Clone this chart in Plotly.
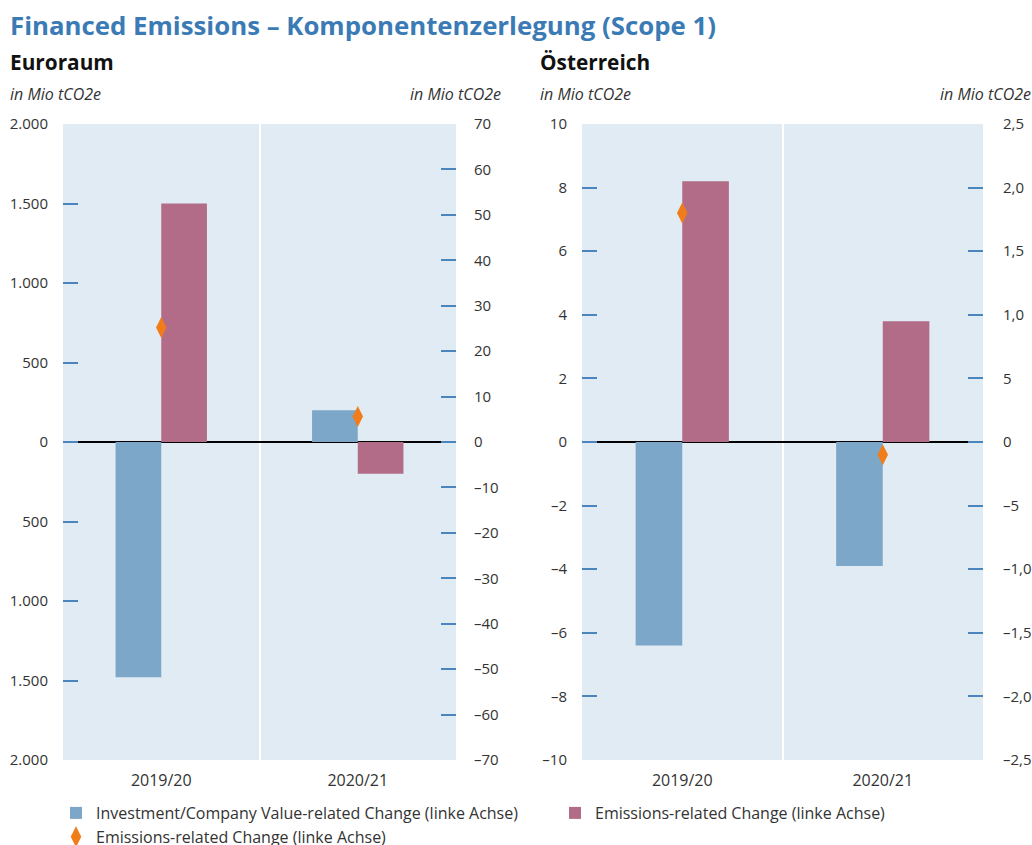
import plotly.graph_objects as go
from plotly.subplots import make_subplots

# ---- data ----
categories = ["2019/20", "2020/21"]

eu_invest = [-1480, 200]      # Investment/Company Value-related Change (left axis)
eu_emis = [1500, -200]        # Emissions-related Change (left axis)
eu_marker = [25.2, 5.6]       # diamonds (read on right axis)

at_invest = [-6.4, -3.9]
at_emis = [8.2, 3.8]
at_marker = [1.8, -0.1]

eu_left_vals = [-2000, -1500, -1000, -500, 0, 500, 1000, 1500, 2000]
eu_left_text = ["2.000", "1.500", "1.000", "500", "0", "500", "1.000", "1.500", "2.000"]
eu_right_vals = [-70, -60, -50, -40, -30, -20, -10, 0, 10, 20, 30, 40, 50, 60, 70]
eu_right_text = ["–70", "–60", "–50", "–40", "–30", "–20", "–10", "0", "10", "20", "30", "40", "50", "60", "70"]
at_left_vals = [-10, -8, -6, -4, -2, 0, 2, 4, 6, 8, 10]
at_left_text = ["–10", "–8", "–6", "–4", "–2", "0", "2", "4", "6", "8", "10"]
at_right_vals = [-2.5, -2.0, -1.5, -1.0, -0.5, 0, 0.5, 1.0, 1.5, 2.0, 2.5]
at_right_text = ["–2,5", "–2,0", "–1,5", "–1,0", "–5", "0", "5", "1,0", "1,5", "2,0", "2,5"]

name_inv = "Investment/Company Value-related Change (linke Achse)"
name_emis = "Emissions-related Change (linke Achse)"
name_mark = "Emissions-related Change (linke Achse)"

# ---- styles ----
FONT = "Open Sans"
C_BLUE = "#7ca7c9"
C_RED = "#b26c87"
C_ORANGE = "#f07d1a"
C_BG = "#e1ebf4"
C_TICK = "#4a86bd"
C_TXT = "#333333"
C_TITLE = "#3b7bb5"

W, H = 1032, 845

def px_x(v):
    return v / W

def px_y(v):
    return 1 - v / H

fig = make_subplots(rows=1, cols=2, specs=[[{"secondary_y": True}, {"secondary_y": True}]])

for col, inv, emis, mk, show in [(1, eu_invest, eu_emis, eu_marker, True),
                                 (2, at_invest, at_emis, at_marker, False)]:
    fig.add_trace(go.Bar(x=categories, y=inv, name=name_inv, marker_color=C_BLUE,
                         marker_line_width=0, showlegend=show, legend="legend"),
                  row=1, col=col, secondary_y=False)
    fig.add_trace(go.Bar(x=categories, y=emis, name=name_emis, marker_color=C_RED,
                         marker_line_width=0, showlegend=show, legend="legend2"),
                  row=1, col=col, secondary_y=False)
    fig.add_trace(go.Scatter(x=categories, y=mk, name=name_mark, mode="markers",
                             marker=dict(symbol="diamond-tall", size=15, color=C_ORANGE,
                                         line_width=0),
                             showlegend=show, legend="legend"),
                  row=1, col=col, secondary_y=True)

tickfont = dict(family=FONT, size=15, color=C_TXT)
common_y = dict(ticks="inside", ticklen=15, tickwidth=1.5, tickcolor=C_TICK,
                showgrid=False, showline=False, automargin=False, tickfont=tickfont,
                tickmode="array")

ydom = [px_y(760), px_y(124)]
dom1 = [px_x(63), px_x(456)]
dom2 = [px_x(582), px_x(983)]

fig.update_layout(xaxis=dict(domain=dom1), xaxis2=dict(domain=dom2))
for ax in ["xaxis", "xaxis2"]:
    fig.layout[ax].update(type="category", tickson="boundaries", showgrid=True,
                          gridcolor="white", gridwidth=2, ticks="", showline=False,
                          zeroline=False, automargin=False,
                          tickfont=dict(family=FONT, size=16, color=C_TXT),
                          ticklabelstandoff=9)

fig.layout.yaxis.update(domain=ydom, range=[-2000, 2000], tickvals=eu_left_vals,
                        ticktext=eu_left_text, zeroline=True, zerolinecolor="black",
                        zerolinewidth=1.5, ticklabelstandoff=14, **common_y)
fig.layout.yaxis2.update(range=[-70, 70], tickvals=eu_right_vals, ticktext=eu_right_text,
                         zeroline=False, ticklabelstandoff=17, **common_y)
fig.layout.yaxis3.update(domain=ydom, range=[-10, 10], tickvals=at_left_vals,
                         ticktext=at_left_text, zeroline=True, zerolinecolor="black",
                         zerolinewidth=1.5, ticklabelstandoff=14, **common_y)
fig.layout.yaxis4.update(range=[-2.5, 2.5], tickvals=at_right_vals, ticktext=at_right_text,
                         zeroline=False, ticklabelstandoff=19, **common_y)

def ann(text, x, y, size, bold=False, italic=False, color=C_TXT, xanchor="left"):
    t = text
    if bold:
        t = "<b>" + t + "</b>"
    if italic:
        t = "<i>" + t + "</i>"
    dx = -2 if xanchor == "left" else 2
    return dict(text=t, x=px_x(x + dx), y=px_y(y), xref="paper", yref="paper",
                xanchor=xanchor, yanchor="middle", showarrow=False,
                font=dict(family=FONT, size=size, color=color))

annotations = [
    ann("Financed Emissions – Komponentenzerlegung (Scope 1)", 10, 25, 25.8, bold=True, color=C_TITLE),
    ann("Euroraum", 10, 62, 20.8, bold=True, color="#111111"),
    ann("Österreich", 540, 62, 20.8, bold=True, color="#111111"),
    ann("in Mio tCO2e", 10, 94, 16, italic=True),
    ann("in Mio tCO2e", 501, 94, 16, italic=True, xanchor="right"),
    ann("in Mio tCO2e", 540, 94, 16, italic=True),
    ann("in Mio tCO2e", 940, 94, 16, italic=True),
]

legfont = dict(family=FONT, size=16, color=C_TXT)
fig.update_layout(
    template="none",
    width=W, height=H,
    margin=dict(l=0, r=0, t=0, b=0, autoexpand=False),
    paper_bgcolor="white",
    plot_bgcolor=C_BG,
    barmode="group",
    bargap=0.535,
    bargroupgap=0,
    font=dict(family=FONT, color=C_TXT),
    annotations=annotations,
    legend=dict(orientation="v", x=px_x(56), y=px_y(796), xanchor="left", yanchor="top",
                font=legfont, bgcolor="rgba(0,0,0,0)", tracegroupgap=0,
                traceorder="normal"),
    legend2=dict(orientation="v", x=px_x(555), y=px_y(796), xanchor="left", yanchor="top",
                 font=legfont, bgcolor="rgba(0,0,0,0)", tracegroupgap=0),
)

fig.write_html("out.html", config={"displayModeBar": False},
               post_script="document.body.style.margin='0px';")
